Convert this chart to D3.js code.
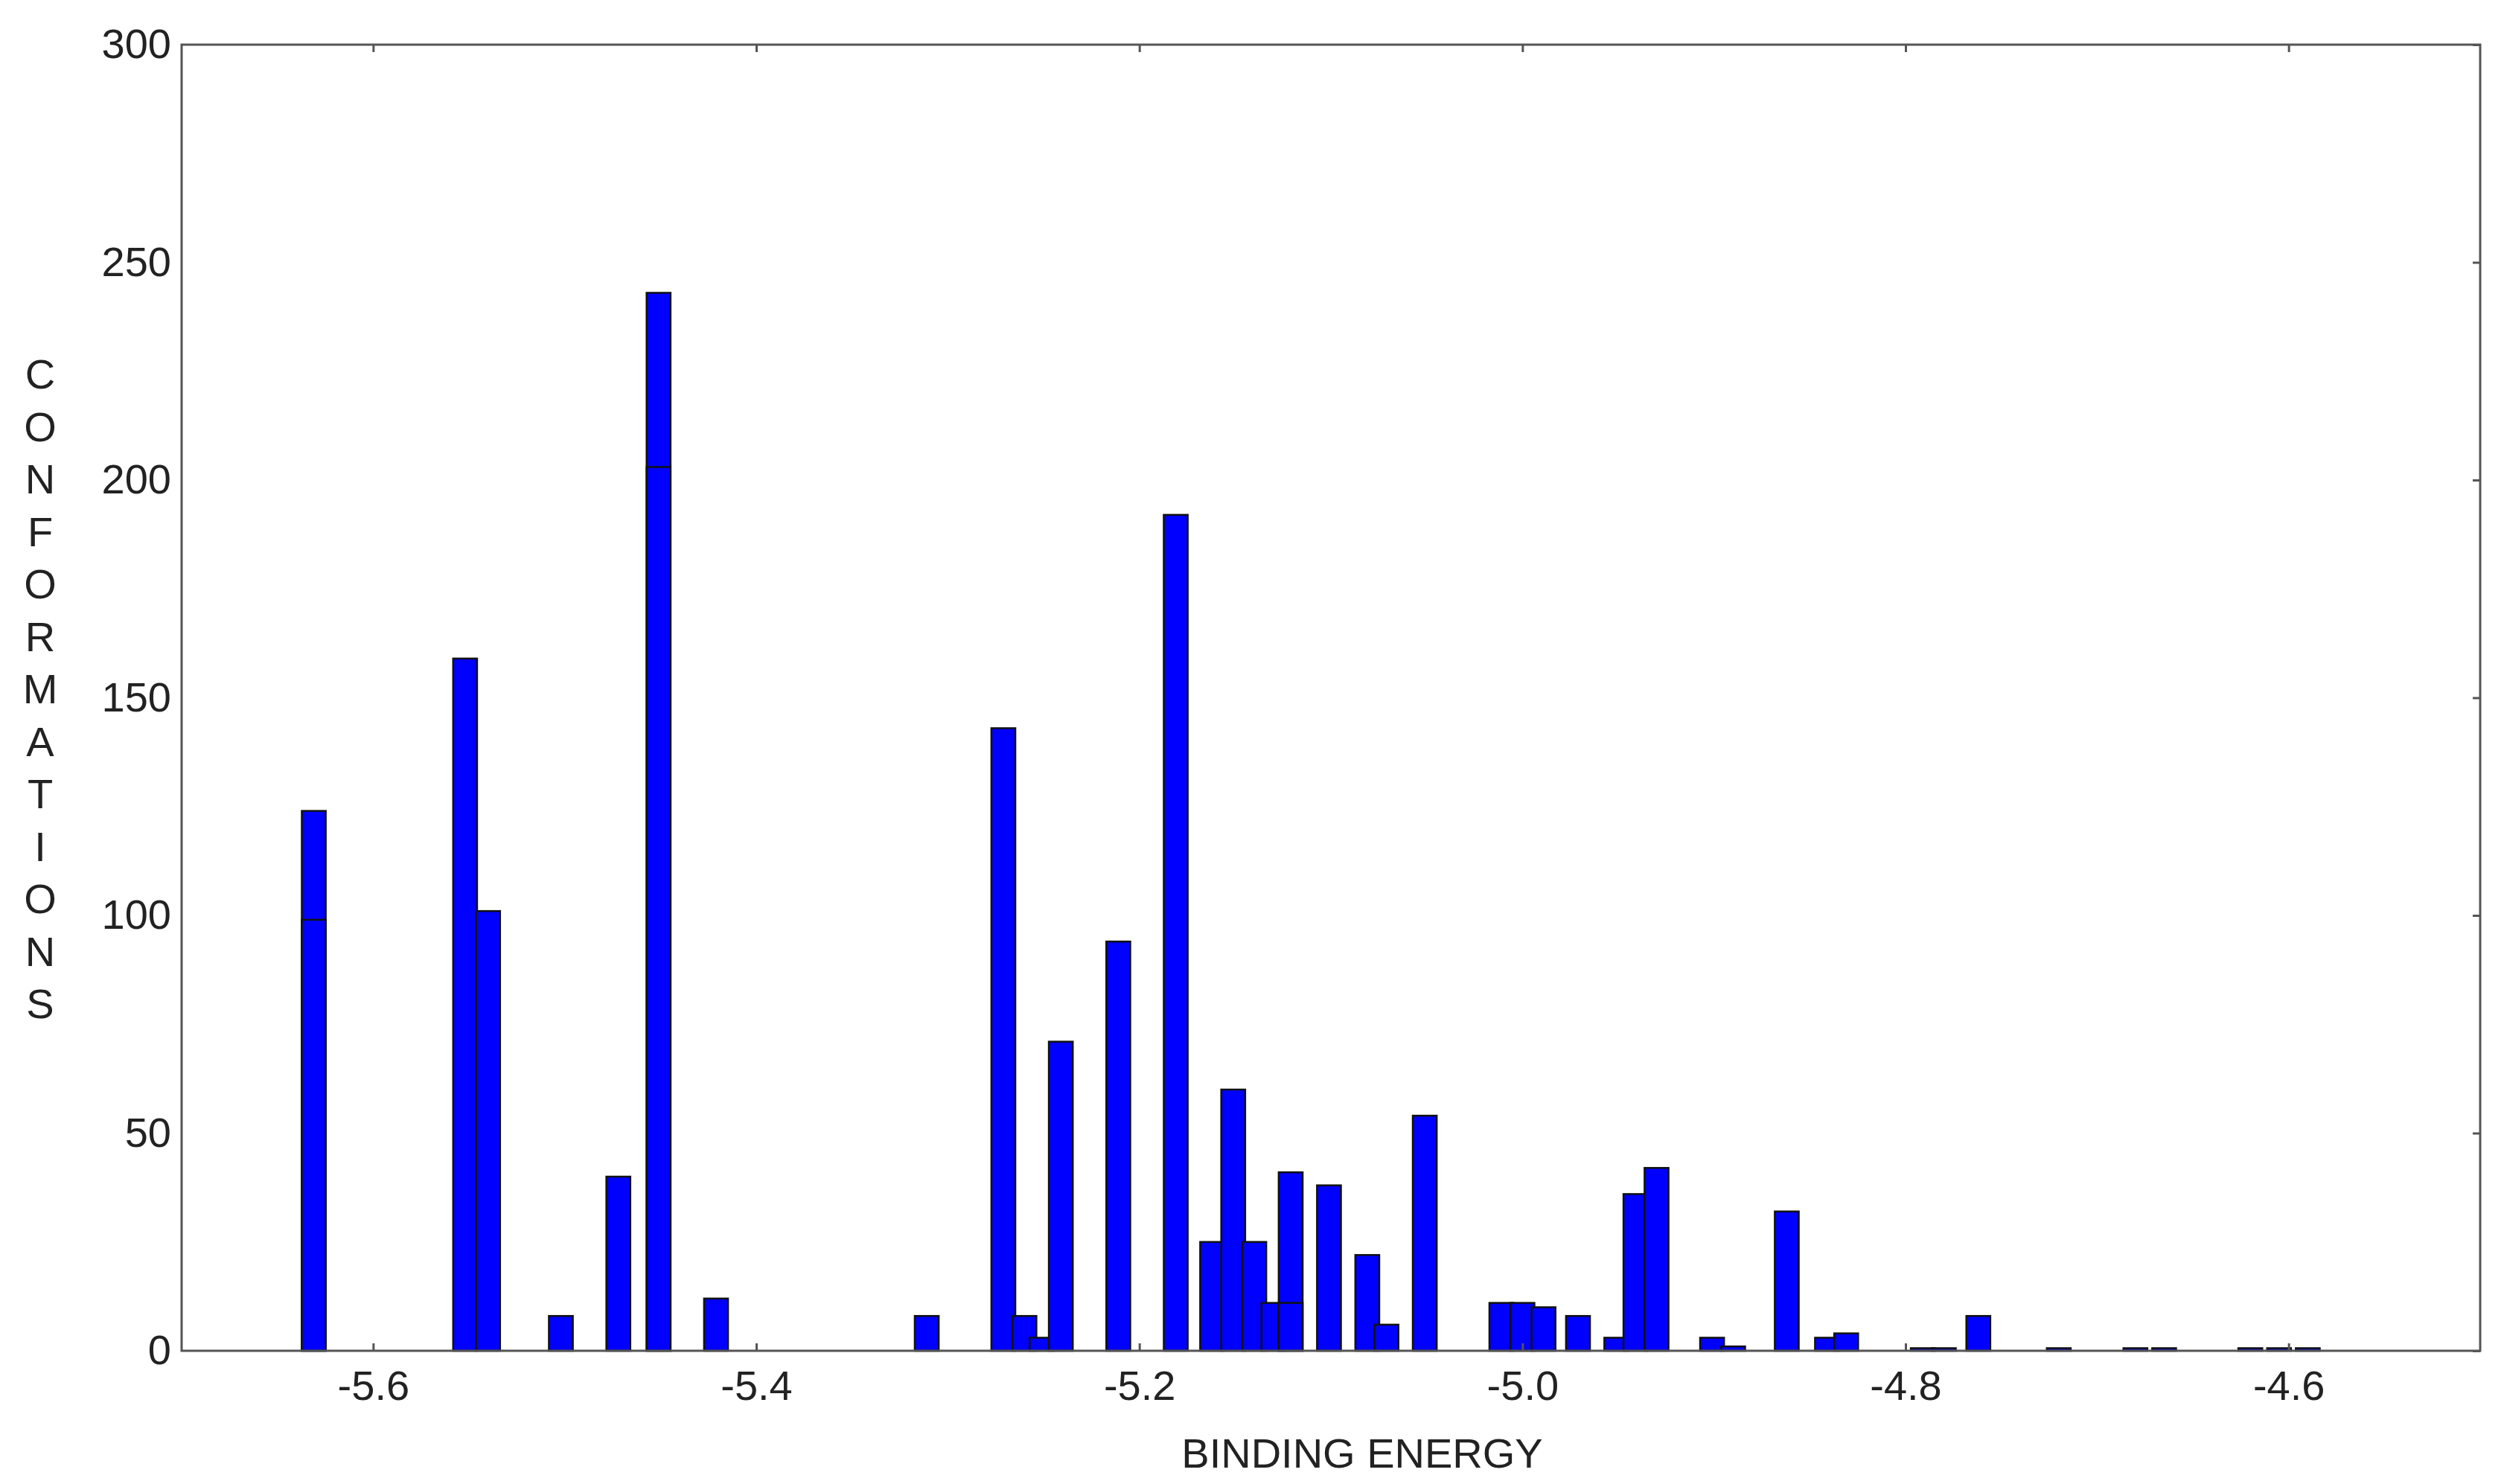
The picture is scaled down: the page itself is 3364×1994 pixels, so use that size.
<!DOCTYPE html>
<html><head><meta charset="utf-8">
<script src="https://cdn.jsdelivr.net/npm/d3@7"></script>
<style>body{margin:0;background:#fff}</style></head>
<body><svg id="c" width="3364" height="1994"></svg>
<script>
const centers = [-5.631,-5.631,-5.552,-5.540,-5.502,-5.472,-5.451,-5.451,-5.421,-5.311,-5.271,-5.260,-5.251,-5.241,-5.211,-5.181,-5.162,-5.151,-5.140,-5.130,-5.121,-5.121,-5.101,-5.081,-5.071,-5.051,-5.011,-5.000,-4.989,-4.971,-4.951,-4.941,-4.930,-4.901,-4.890,-4.862,-4.841,-4.831,-4.791,-4.780,-4.762,-4.720,-4.680,-4.665,-4.620,-4.605,-4.590];
const counts  = [124,99,159,101,8,40,243,203,12,8,143,8,3,71,94,192,25,60,25,11,41,11,38,22,6,54,11,11,10,8,3,36,42,3,1,32,3,4,0.6,0.6,8,0.6,0.6,0.6,0.6,0.6,0.6];
const xTicks = [-5.6,-5.4,-5.2,-5.0,-4.8,-4.6];
const yTicks = [0,50,100,150,200,250,300];
const binW = 0.0125;

const svg = d3.select("#c");
const L=244,R=3332,T=60,B=1815;
const x = d3.scaleLinear().domain([-5.7,-4.5]).range([L,R]);
const y = d3.scaleLinear().domain([0,300]).range([B,T]);
const font = "Liberation Sans, Arial, sans-serif";

svg.append("g").selectAll("rect").data(centers).join("rect")
  .attr("x",d=>x(d-binW/2)).attr("width",d=>x(binW)-x(0))
  .attr("y",(d,i)=>y(counts[i])).attr("height",(d,i)=>B-y(counts[i]))
  .attr("fill","#0000ff").attr("stroke","#111").attr("stroke-width",2.5);

svg.append("rect").attr("x",L).attr("y",T).attr("width",R-L).attr("height",B-T)
  .attr("fill","none").attr("stroke","#555").attr("stroke-width",3);

const tk=10;
const gx = svg.append("g").attr("transform",`translate(0,${B})`)
  .call(d3.axisBottom(x).tickValues(xTicks).tickFormat(d=>d.toFixed(1)).tickSize(-tk).tickPadding(26));
const gxt = svg.append("g").attr("transform",`translate(0,${T})`)
  .call(d3.axisTop(x).tickValues(xTicks).tickFormat("").tickSize(-tk));
const gy = svg.append("g").attr("transform",`translate(${L},0)`)
  .call(d3.axisLeft(y).tickValues(yTicks).tickSize(0).tickPadding(14));
const gyr = svg.append("g").attr("transform",`translate(${R},0)`)
  .call(d3.axisRight(y).tickValues(yTicks).tickFormat("").tickSize(-tk));
[gx,gxt,gy,gyr].forEach(g=>{g.select(".domain").remove();
  g.selectAll("line").attr("stroke","#555").attr("stroke-width",3);
  g.selectAll("text").attr("font-family",font).attr("font-size",56).attr("fill","#222");});
gx.selectAll("text").attr("dy","0.71em");

svg.append("text").attr("x",1830).attr("y",1972).attr("text-anchor","middle")
  .attr("font-family",font).attr("font-size",56).attr("fill","#222").text("BINDING ENERGY");
const lab="CONFORMATIONS".split("");
svg.append("g").selectAll("text").data(lab).join("text")
  .attr("x",54).attr("y",(d,i)=>522+i*70.5).attr("text-anchor","middle")
  .attr("font-family",font).attr("font-size",56).attr("fill","#222").text(d=>d);
</script></body></html>
